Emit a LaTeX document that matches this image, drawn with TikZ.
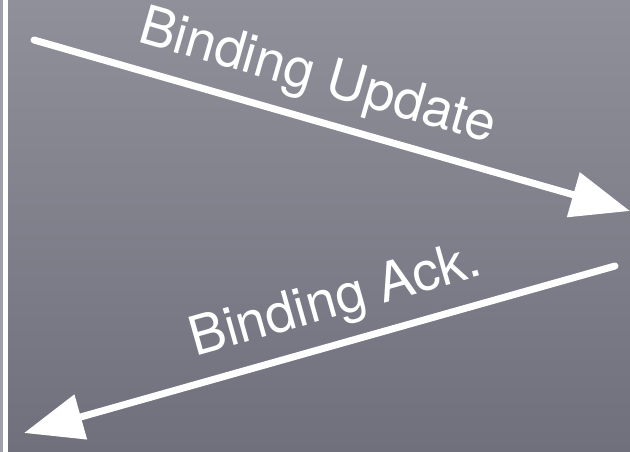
\documentclass[tikz,border=0pt]{standalone}
\usepackage{fontspec}
\setmainfont{TeX Gyre Heros}
\usetikzlibrary{arrows.meta}
\definecolor{bgtop}{RGB}{144,144,154}
\definecolor{bgbottom}{RGB}{111,112,124}
\definecolor{edgegray}{RGB}{160,160,168}

\begin{document}
\begin{tikzpicture}[x = 1pt, y = -1pt,
        msg/.style = {draw = white, line width = 7pt, line cap = round,
            -{Triangle[length = 59pt, width = 45pt]}},
        msglabel/.style = {text = white, font = \fontsize{54}{54}\selectfont,
            sloped, anchor = base, inner sep = 0pt, yshift = 27pt}]
                \useasboundingbox (0,0) rectangle (630,452);
                % background
                \fill[top color = bgtop, bottom color = bgbottom](0,0)rectangle(630,452);
                \fill[edgegray](0,0)rectangle(3,452);
                \fill[white](3,0)rectangle(7.5,452);
                % end points
                \coordinate(BUstart)at(34,40);
                \coordinate(BUend)at(630,211);
                \coordinate(ACKstart)at(615,266);
                \coordinate(ACKend)at(24,433);
                % messages
                \path[msg](BUstart)to node[msglabel, pos = 0.456](BU){Binding Update}(BUend);
                \path[msg](ACKstart)to node[msglabel, pos = 0.453](ACK){Binding Ack.}(ACKend);
            \end{tikzpicture}
\end{document}
